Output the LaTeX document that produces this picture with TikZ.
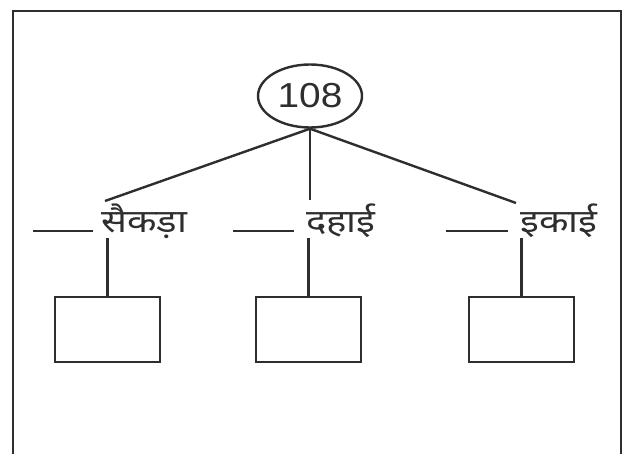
\documentclass[tikz,border=0pt]{standalone}
\usepackage{fontspec}
\setmainfont{Liberation Sans}
\newfontfamily\devfont[Script=Devanagari]{Noto Sans}
\usetikzlibrary{shapes.geometric,positioning,calc}
\definecolor{ink}{HTML}{2E2E2E}
\newcommand\widetxt[2]{\scalebox{#1}[1]{#2}}

\begin{document}
\begin{tikzpicture}[x=0.75pt,y=-0.75pt,line width=1.8pt,draw=ink,text=ink,
 root/.style={draw,ellipse,minimum width=104pt*0.75,minimum height=63pt*0.75,inner sep=0pt,font=\fontsize{26}{26}\selectfont},
 slot/.style={draw,rectangle,minimum width=105pt*0.75,minimum height=65pt*0.75,inner sep=0pt},
 word/.style={anchor=base west,inner sep=0pt,font=\devfont\fontsize{24}{24}\selectfont},
 blank/.style={anchor=base west,inner sep=0pt},
 lnk/.style={line cap=butt}]
\useasboundingbox (0,0) rectangle (623,453);
\clip (0,0) rectangle (623,453);
% frame, open at the bottom
\draw (13,470) -- (13,11) -- (621,11) -- (621,470);
% number
\node[root] (num) at (310,96) {\widetxt{1.12}{108}};
% place-value names
\node[blank] (bh) at (32,232) {\rule{45pt}{1.5pt}};
\node[word] (wh) at (100,232) {\widetxt{1.2}{सैकड़ा}};
\node[blank] (bt) at (232,232) {\rule{45.5pt}{1.5pt}};
\node[word] (wt) at (305,232) {\widetxt{1.2}{दहाई}};
\node[blank] (bo) at (445,232) {\rule{46.5pt}{1.5pt}};
\node[word] (wo) at (519,232) {\widetxt{1.2}{इकाई}};
% empty boxes
\node[slot] (sh) at (107.5,329.5) {};
\node[slot] (st) at (308.5,329.5) {};
\node[slot] (so) at (521.5,329.5) {};
% branches
\coordinate (ah) at (105,201);
\coordinate (at) at (310,200);
\coordinate (ao) at (516,203);
\draw[lnk] (num.south) -- (ah);
\draw[lnk] (num.south) -- (at);
\draw[lnk] (num.south) -- (ao);
\draw[lnk] (sh.north |- 0,238) -- (sh.north);
\draw[lnk] (st.north |- 0,238) -- (st.north);
\draw[lnk] (so.north |- 0,238) -- (so.north);
\end{tikzpicture}
\end{document}
